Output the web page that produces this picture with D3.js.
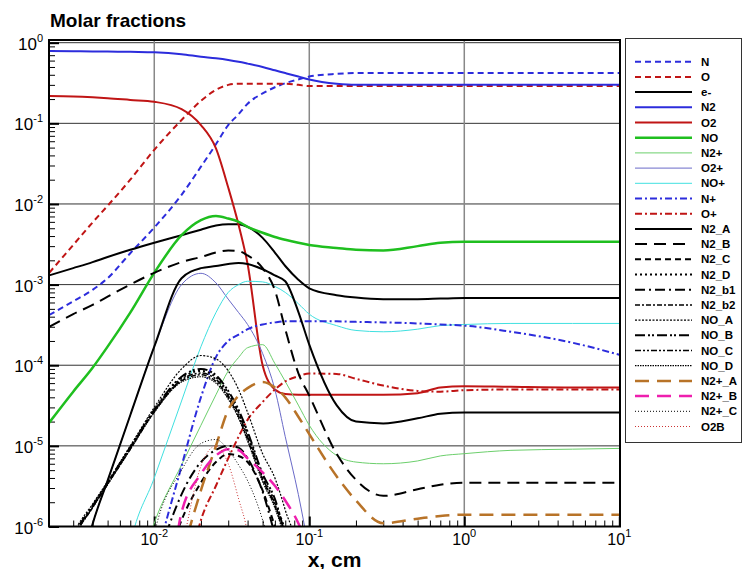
<!DOCTYPE html>
<html>
<head>
<meta charset="utf-8">
<script src="https://cdn.jsdelivr.net/npm/d3@7"></script>
<style>
  body { margin: 0; background: #fff; }
  svg text { font-family: "Liberation Sans", Arial, sans-serif; }
</style>
</head>
<body>
<svg id="chart" width="742" height="569"></svg>
<script>
// x positions (cm) shared by all species
const xs = [0.0021, 0.003, 0.004, 0.005, 0.007, 0.01, 0.015, 0.02, 0.025, 0.03, 0.035, 0.04, 0.05, 0.06, 0.07, 0.085, 0.1, 0.15, 0.2, 0.3, 0.5, 0.7, 1, 2, 5, 10];

// molar fractions
const N     = [4.2e-4, 6.2e-4, 8.6e-4, 1.2e-3, 2.45e-3, 5.1e-3, 0.013, 0.029, 0.055, 0.095, 0.13, 0.175, 0.235, 0.28, 0.315, 0.35, 0.38, 0.41, 0.42, 0.42, 0.42, 0.42, 0.42, 0.42, 0.42, 0.42];
const O     = [1.4e-3, 3.1e-3, 5.9e-3, 9.5e-3, 0.02, 0.047, 0.11, 0.19, 0.26, 0.30, 0.31, 0.31, 0.31, 0.31, 0.31, 0.30, 0.29, 0.29, 0.29, 0.29, 0.29, 0.29, 0.29, 0.29, 0.29, 0.29];
const eMinus= [1.3e-3, 1.6e-3, 1.9e-3, 2.2e-3, 2.7e-3, 3.3e-3, 4.1e-3, 4.8e-3, 5.4e-3, 5.6e-3, 5.6e-3, 5.2e-3, 3.8e-3, 2.5e-3, 1.7e-3, 1.15e-3, 9e-4, 7.4e-4, 6.9e-4, 6.6e-4, 6.6e-4, 6.7e-4, 6.8e-4, 6.8e-4, 6.8e-4, 6.8e-4];
const N2    = [0.79, 0.785, 0.78, 0.78, 0.77, 0.76, 0.72, 0.67, 0.64, 0.61, 0.58, 0.55, 0.50, 0.455, 0.42, 0.38, 0.35, 0.31, 0.30, 0.30, 0.30, 0.30, 0.30, 0.30, 0.30, 0.30];
const O2    = [0.218, 0.215, 0.21, 0.205, 0.195, 0.185, 0.15, 0.095, 0.049, 0.016, 0.0055, 0.0018, 1.0e-4, 5e-5, 4.4e-5, 4.3e-5, 4.3e-5, 4.3e-5, 4.3e-5, 4.3e-5, 4.5e-5, 5.3e-5, 5.5e-5, 5.4e-5, 5.3e-5, 5.3e-5];
const NO    = [1.94e-5, 4.7e-5, 9.3e-5, 1.7e-4, 4.5e-4, 1.4e-3, 4.1e-3, 6.3e-3, 7.1e-3, 6.6e-3, 6.0e-3, 5.2e-3, 4.4e-3, 3.9e-3, 3.6e-3, 3.3e-3, 3.1e-3, 2.85e-3, 2.7e-3, 2.65e-3, 3.0e-3, 3.3e-3, 3.4e-3, 3.4e-3, 3.4e-3, 3.4e-3];
const N2p   = [1e-8, 1e-8, 1e-8, 1e-8, 1e-7, 1.1e-6, 5.8e-6, 1.8e-5, 4.3e-5, 8.5e-5, 1.25e-4, 1.65e-4, 1.8e-4, 1.05e-4, 6.3e-5, 3.2e-5, 1.8e-5, 7.6e-6, 6.3e-6, 6e-6, 6.5e-6, 7.5e-6, 8e-6, 8.8e-6, 9.1e-6, 9.3e-6];
const O2p   = [1e-8, 1e-7, 1.07e-6, 3.7e-6, 2.4e-5, 1.7e-4, 1.0e-3, 1.38e-3, 1.05e-3, 6.6e-4, 4.5e-4, 3.2e-4, 1.4e-4, 5e-5, 1.3e-5, 2.5e-6, 5e-7, 1e-8, 1e-8, 1e-8, 1e-8, 1e-8, 1e-8, 1e-8, 1e-8, 1e-8];
const NOp   = [1e-8, 1e-8, 1e-8, 1e-8, 6e-7, 4e-6, 3.6e-5, 1.7e-4, 4.5e-4, 8e-4, 1.0e-3, 1.1e-3, 1.08e-3, 9.5e-4, 8e-4, 5.8e-4, 4.3e-4, 3.1e-4, 2.7e-4, 2.6e-4, 2.8e-4, 3.1e-4, 3.2e-4, 3.3e-4, 3.3e-4, 3.3e-4];
const Np    = [1e-8, 1e-8, 1e-8, 1e-8, 1e-8, 3e-7, 5.6e-6, 4e-5, 1.26e-4, 2e-4, 2.4e-4, 2.8e-4, 3.2e-4, 3.4e-4, 3.5e-4, 3.5e-4, 3.5e-4, 3.5e-4, 3.45e-4, 3.4e-4, 3.3e-4, 3.2e-4, 3.1e-4, 2.6e-4, 1.9e-4, 1.35e-4];
const Op    = [1e-8, 1e-8, 1e-8, 1e-8, 1e-8, 1e-8, 1e-7, 1.2e-6, 3.2e-6, 7e-6, 1.3e-5, 2.1e-5, 3.5e-5, 5e-5, 6.3e-5, 7.3e-5, 7.9e-5, 7.8e-5, 6.8e-5, 5.6e-5, 4.8e-5, 4.7e-5, 4.9e-5, 5e-5, 5e-5, 5e-5];
const N2_A  = [1e-8, 1e-7, 1.07e-6, 3.7e-6, 2.4e-5, 1.7e-4, 1.2e-3, 1.6e-3, 1.7e-3, 1.8e-3, 1.85e-3, 1.8e-3, 1.55e-3, 1.3e-3, 1.1e-3, 4.6e-4, 1.8e-4, 3.2e-5, 2e-5, 1.9e-5, 2.2e-5, 2.5e-5, 2.6e-5, 2.6e-5, 2.6e-5, 2.6e-5];
const N2_B  = [3e-4, 4.3e-4, 5.6e-4, 7.1e-4, 1e-3, 1.4e-3, 1.9e-3, 2.2e-3, 2.5e-3, 2.65e-3, 2.6e-3, 2.3e-3, 1.6e-3, 8.5e-4, 2.8e-4, 8e-5, 4.2e-5, 8e-6, 3.8e-6, 2.4e-6, 2.9e-6, 3.3e-6, 3.5e-6, 3.5e-6, 3.5e-6, 3.5e-6];
const N2_C  = [1e-8, 1e-8, 1e-8, 1e-8, 1e-8, 1e-7, 1.2e-6, 3.5e-6, 6.3e-6, 7.9e-6, 7.5e-6, 6.3e-6, 2.8e-6, 1e-6, 4e-7, 1e-8, 1e-8, 1e-8, 1e-8, 1e-8, 1e-8, 1e-8, 1e-8, 1e-8, 1e-8, 1e-8];
const N2_D  = [1e-7, 7.3e-7, 1.8e-6, 3.45e-6, 9.5e-6, 2.75e-5, 6.9e-5, 8.5e-5, 7.1e-5, 4.5e-5, 2.6e-5, 1.4e-5, 4.2e-6, 2e-6, 9e-7, 2.8e-7, 1e-8, 1e-8, 1e-8, 1e-8, 1e-8, 1e-8, 1e-8, 1e-8, 1e-8, 1e-8];
const N2_b1 = [1e-8, 1e-8, 1e-8, 1e-8, 1e-8, 2.5e-7, 2.5e-6, 6.3e-6, 8.9e-6, 1e-5, 9.5e-6, 7e-6, 2.7e-6, 8e-7, 3e-7, 1e-8, 1e-8, 1e-8, 1e-8, 1e-8, 1e-8, 1e-8, 1e-8, 1e-8, 1e-8, 1e-8];
const N2_b2 = [1e-7, 7.1e-7, 1.72e-6, 3.35e-6, 9.1e-6, 2.65e-5, 6.4e-5, 7.6e-5, 6.3e-5, 4e-5, 2.3e-5, 1.2e-5, 3.8e-6, 1.8e-6, 7.5e-7, 2.2e-7, 1e-8, 1e-8, 1e-8, 1e-8, 1e-8, 1e-8, 1e-8, 1e-8, 1e-8, 1e-8];
const NO_A  = [1e-7, 8e-7, 1.9e-6, 3.6e-6, 1.0e-5, 3.0e-5, 9e-5, 1.32e-4, 1.2e-4, 8.5e-5, 5e-5, 2.6e-5, 8e-6, 4e-6, 1.6e-6, 4e-7, 1e-8, 1e-8, 1e-8, 1e-8, 1e-8, 1e-8, 1e-8, 1e-8, 1e-8, 1e-8];
const NO_B  = [1e-7, 7.5e-7, 1.8e-6, 3.5e-6, 9.6e-6, 2.8e-5, 7.2e-5, 9e-5, 7.5e-5, 4.8e-5, 2.8e-5, 1.5e-5, 4.5e-6, 2.2e-6, 8e-7, 3e-7, 1e-8, 1e-8, 1e-8, 1e-8, 1e-8, 1e-8, 1e-8, 1e-8, 1e-8, 1e-8];
const NO_C  = [1e-7, 7.2e-7, 1.75e-6, 3.4e-6, 9.3e-6, 2.7e-5, 6.6e-5, 8e-5, 6.7e-5, 4.2e-5, 2.5e-5, 1.3e-5, 4e-6, 1.9e-6, 8e-7, 2.5e-7, 1e-8, 1e-8, 1e-8, 1e-8, 1e-8, 1e-8, 1e-8, 1e-8, 1e-8, 1e-8];
const NO_D  = [1e-7, 7e-7, 1.7e-6, 3.3e-6, 9e-6, 2.6e-5, 6.2e-5, 7.2e-5, 6e-5, 3.8e-5, 2.2e-5, 1.15e-5, 3.6e-6, 1.7e-6, 7e-7, 2e-7, 1e-8, 1e-8, 1e-8, 1e-8, 1e-8, 1e-8, 1e-8, 1e-8, 1e-8, 1e-8];
const N2pA  = [1e-8, 1e-8, 1e-8, 1e-8, 1e-8, 1e-8, 4e-7, 2.8e-6, 1e-5, 2.8e-5, 4.2e-5, 5.2e-5, 6.2e-5, 5.3e-5, 4e-5, 2.3e-5, 1.4e-5, 4.2e-6, 2.1e-6, 1.1e-6, 1.25e-6, 1.35e-6, 1.4e-6, 1.4e-6, 1.4e-6, 1.4e-6];
const N2pB  = [1e-8, 1e-8, 1e-8, 1e-8, 1e-8, 1e-8, 1.5e-6, 4.5e-6, 7.6e-6, 9.1e-6, 8.8e-6, 7e-6, 4.7e-6, 3.2e-6, 2.1e-6, 1.1e-6, 5e-7, 1e-8, 1e-8, 1e-8, 1e-8, 1e-8, 1e-8, 1e-8, 1e-8, 1e-8];
const N2pC  = [1e-8, 1e-8, 1e-8, 1e-8, 1e-8, 8e-7, 5e-6, 1.07e-5, 1.2e-5, 8.9e-6, 5.8e-6, 3.7e-6, 1.2e-6, 3e-7, 1e-8, 1e-8, 1e-8, 1e-8, 1e-8, 1e-8, 1e-8, 1e-8, 1e-8, 1e-8, 1e-8, 1e-8];
const O2B   = [1e-8, 1e-8, 1e-8, 1e-8, 1e-8, 1e-8, 5e-7, 5.6e-6, 1e-5, 6e-6, 2.2e-6, 8e-7, 1e-8, 1e-8, 1e-8, 1e-8, 1e-8, 1e-8, 1e-8, 1e-8, 1e-8, 1e-8, 1e-8, 1e-8, 1e-8, 1e-8];

const speciesNames = ['N', 'O', 'e-', 'N2', 'O2', 'NO', 'N2+', 'O2+', 'NO+', 'N+', 'O+', 'N2_A', 'N2_B', 'N2_C', 'N2_D', 'N2_b1', 'N2_b2', 'NO_A', 'NO_B', 'NO_C', 'NO_D', 'N2+_A', 'N2+_B', 'N2+_C', 'O2B'];
const speciesValues = [N, O, eMinus, N2, O2, NO, N2p, O2p, NOp, Np, Op, N2_A, N2_B, N2_C, N2_D, N2_b1, N2_b2, NO_A, NO_B, NO_C, NO_D, N2pA, N2pB, N2pC, O2B];

const yMajor = [1, 1e-1, 1e-2, 1e-3, 1e-4, 1e-5, 1e-6];
const yExp = ['0', '-1', '-2', '-3', '-4', '-5', '-6'];
const xMajor = [0.01, 0.1, 1, 10];
const xExp = ['-2', '-1', '0', '1'];

// line looks per species
const looks = {
  'N':     { c: '#2c2cdc', w: 2,   d: '6,4' },
  'O':     { c: '#c01515', w: 2,   d: '6,4' },
  'e-':    { c: '#000',    w: 2 },
  'N2':    { c: '#2c2cdc', w: 2 },
  'O2':    { c: '#c01515', w: 2 },
  'NO':    { c: '#1fbf1f', w: 2.5 },
  'N2+':   { c: '#6ccf6c', w: 1 },
  'O2+':   { c: '#6a6ac8', w: 1 },
  'NO+':   { c: '#40e0e0', w: 1 },
  'N+':    { c: '#2c2cdc', w: 2,   d: '7,3,2,3' },
  'O+':    { c: '#c01515', w: 2,   d: '7,3,2,3' },
  'N2_A':  { c: '#000',    w: 2 },
  'N2_B':  { c: '#000',    w: 2,   d: '12,7' },
  'N2_C':  { c: '#000',    w: 2,   d: '6,4' },
  'N2_D':  { c: '#000',    w: 2,   d: '2,3' },
  'N2_b1': { c: '#000',    w: 2,   d: '10,4,2,4' },
  'N2_b2': { c: '#000',    w: 1.5, d: '5,2,2,2' },
  'NO_A':  { c: '#000',    w: 1.2, d: '2,1.5' },
  'NO_B':  { c: '#000',    w: 2,   d: '10,3,2,2,2,3' },
  'NO_C':  { c: '#000',    w: 1.5, d: '6,2,2,2,2,2' },
  'NO_D':  { c: '#000',    w: 1.2, d: '1.5,1' },
  'N2+_A': { c: '#b87328', w: 2.5, d: '14,8' },
  'N2+_B': { c: '#ee1fae', w: 2.5, d: '14,8' },
  'N2+_C': { c: '#000',    w: 1,   d: '1,2' },
  'O2B':   { c: '#cc3333', w: 1,   d: '1,2' }
};

const svg = d3.select('#chart');
const pLeft = 49, pRight = 620, pTop = 40, pBottom = 526.5;

const x = d3.scaleLog().domain([0.0021, 10]).range([49.2, 619.3]);
const y = d3.scaleLog().domain([1e-6, 1]).range([pBottom, 42.7]);

svg.append('defs').append('clipPath').attr('id', 'plotClip')
  .append('rect').attr('x', pLeft).attr('y', pTop).attr('width', pRight - pLeft).attr('height', pBottom - pTop);

// grid
svg.append('g').selectAll('line').data(yMajor).join('line')
  .attr('x1', pLeft).attr('x2', pRight)
  .attr('y1', d => y(d)).attr('y2', d => y(d))
  .attr('stroke', '#333').attr('stroke-width', 1);
svg.append('g').selectAll('line').data(xMajor.slice(0, 3)).join('line')
  .attr('x1', d => x(d)).attr('x2', d => x(d))
  .attr('y1', pTop).attr('y2', pBottom)
  .attr('stroke', '#888').attr('stroke-width', 1.5);

// minor / major ticks pointing inward
const minorY = [];
for (let e = -6; e < 0; e++) for (let k = 2; k <= 9; k++) minorY.push(k * Math.pow(10, e));
const minorX = [];
for (let e = -3; e < 1; e++) for (let k = 2; k <= 9; k++) {
  const v = k * Math.pow(10, e);
  if (v > 0.0021 && v < 10) minorX.push(v);
}

function tickAxis(axis, tr) {
  const g = svg.append('g').attr('transform', tr).call(axis);
  g.select('.domain').remove();
  g.selectAll('line').attr('stroke', '#000');
  return g;
}
tickAxis(d3.axisLeft(y).tickValues(minorY).tickSize(-6).tickFormat(''), `translate(${pLeft},0)`)
  .selectAll('line').attr('stroke-width', 1);
tickAxis(d3.axisLeft(y).tickValues(yMajor).tickSize(-10).tickFormat(''), `translate(${pLeft},0)`)
  .selectAll('line').attr('stroke-width', 2);
tickAxis(d3.axisBottom(x).tickValues(minorX).tickSize(-6).tickFormat(''), `translate(0,${pBottom})`)
  .selectAll('line').attr('stroke-width', 1);
tickAxis(d3.axisBottom(x).tickValues(xMajor).tickSize(-10).tickFormat(''), `translate(0,${pBottom})`)
  .selectAll('line').attr('stroke-width', 2);

// curves
const line = d3.line()
  .x(d => x(d[0]))
  .y(d => y(d[1]))
  .curve(d3.curveMonotoneX);

const curves = svg.append('g').attr('clip-path', 'url(#plotClip)');
speciesNames.forEach((name, i) => {
  const lk = looks[name];
  curves.append('path')
    .datum(xs.map((xv, j) => [xv, speciesValues[i][j]]))
    .attr('fill', 'none')
    .attr('stroke', lk.c)
    .attr('stroke-width', lk.w)
    .attr('stroke-dasharray', lk.d || null)
    .attr('d', line);
});

// frame
svg.append('rect')
  .attr('x', pLeft).attr('y', pTop).attr('width', pRight - pLeft).attr('height', pBottom - pTop)
  .attr('fill', 'none').attr('stroke', '#000').attr('stroke-width', 2);

// tick labels
yMajor.forEach((v, i) => {
  const t = svg.append('text').attr('x', 43).attr('y', y(v) + 7)
    .attr('text-anchor', 'end').style('font-size', '17px');
  t.append('tspan').text('10');
  t.append('tspan').attr('dy', -8).style('font-size', '11px').text(yExp[i]);
});
xMajor.forEach((v, i) => {
  const t = svg.append('text').attr('x', x(v)).attr('y', 544.5)
    .attr('text-anchor', 'middle').style('font-size', '16px');
  t.append('tspan').text('10');
  t.append('tspan').attr('dy', -8).style('font-size', '11px').text(xExp[i]);
});

// titles
svg.append('text').attr('x', 50).attr('y', 27)
  .style('font-size', '19px').style('font-weight', 'bold').text('Molar fractions');
svg.append('text').attr('x', (pLeft + pRight) / 2).attr('y', 566.5).attr('text-anchor', 'middle')
  .style('font-size', '21px').style('font-weight', 'bold').text('x, cm');

// legend
const legend = svg.append('g');
legend.append('rect')
  .attr('x', 625.5).attr('y', 38.5).attr('width', 116).attr('height', 404)
  .attr('fill', '#fff').attr('stroke', '#333').attr('stroke-width', 1);
speciesNames.forEach((name, i) => {
  const lk = looks[name];
  const ly = 61.7 + i * 15.2;
  legend.append('line')
    .attr('x1', 635).attr('x2', 692).attr('y1', ly).attr('y2', ly)
    .attr('stroke', lk.c).attr('stroke-width', lk.w)
    .attr('stroke-dasharray', lk.d || null);
  legend.append('text').attr('x', 701).attr('y', ly + 4)
    .style('font-size', '11.5px').style('font-weight', 'bold').text(name);
});
</script>
</body>
</html>
